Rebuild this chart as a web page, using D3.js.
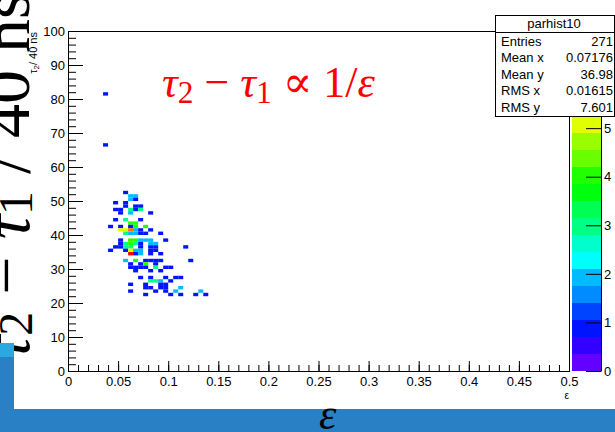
<!DOCTYPE html>
<html><head><meta charset="utf-8">
<script src="https://cdn.jsdelivr.net/npm/d3@7"></script>
<style>body{margin:0;background:#fff;} svg{display:block;}</style>
</head><body>
<svg id="c" width="615" height="432"></svg>
<script>
// ---------------- data ----------------
const rowTau = [81,66,52,51,50,49,48,47,46,44,43,42,41,40,38,37,36,35,34,32,31,30,29,27,26,25,24,23,22];
const rowEps = [
 [0.035],[0.035],
 [0.055],
 [0.06,0.065],
 [0.06,0.065],
 [0.045,0.055],
 [0.055,0.065,0.07],
 [0.045,0.05,0.06,0.065,0.07],
 [0.05,0.06,0.08],
 [0.045,0.055,0.07],
 [0.06,0.065],
 [0.04,0.05,0.06,0.065,0.075],
 [0.05,0.055,0.06,0.065,0.07,0.08],
 [0.055,0.06,0.065,0.07,0.075,0.09],
 [0.05,0.06,0.065,0.07,0.075,0.08,0.095],
 [0.05,0.055,0.06,0.065,0.07,0.08,0.085],
 [0.045,0.05,0.055,0.06,0.07,0.08,0.085,0.115],
 [0.04,0.055,0.06,0.065,0.07,0.08,0.085],
 [0.06,0.065,0.07,0.08,0.09],
 [0.055,0.065,0.075,0.08,0.085,0.09,0.12],
 [0.06,0.07,0.075,0.085],
 [0.06,0.065,0.07,0.075,0.085,0.095,0.1],
 [0.065,0.08,0.09],
 [0.07,0.08,0.095,0.105,0.11],
 [0.08,0.085,0.09,0.1],
 [0.06,0.075,0.09,0.095],
 [0.075,0.08,0.09,0.095,0.11],
 [0.06,0.085,0.095,0.105,0.13],
 [0.075,0.1,0.11,0.125,0.135]
];
const rowCount = [
 [1],[1],
 [1],
 [2,2],
 [2,1],
 [1,1],
 [1,1,1],
 [1,1,3,1,3],
 [1,2,1],
 [1,3,1],
 [4,4],
 [1,1,1,4,4],
 [5,5,6,2,1,1],
 [3,2,2,1,1,1],
 [1,4,4,2,2,2,1],
 [1,3,4,3,1,2,2],
 [1,1,3,3,1,1,1,1],
 [1,1,5,2,2,1,1],
 [7,1,2,1,1],
 [2,4,1,1,1,1,1],
 [1,1,4,1],
 [1,1,1,1,3,1,1],
 [1,1,1],
 [1,1,1,1,1],
 [3,3,2,1],
 [1,1,1,1],
 [1,1,1,1,2],
 [1,1,1,2,2],
 [1,1,1,1,1]
];
const binWidthEps = 0.005;
const binHeightTau = 1;
const xTicks = [0,0.05,0.1,0.15,0.2,0.25,0.3,0.35,0.4,0.45,0.5];
const yTicks = [0,10,20,30,40,50,60,70,80,90,100];
const zTicks = [0,1,2,3,4,5];
const zMax = 7;
const nContours = 20;
const histName = "parhist10";
const statLabels = ["Entries","Mean x","Mean y","RMS x","RMS y"];
const statValues = ["271","0.07176","36.98","0.01615","7.601"];

// ---------------- layout ----------------
const svg = d3.select("#c");
const SANS = "'Liberation Sans', Arial, Helvetica, sans-serif";
const SERIF = "'Liberation Serif', 'DejaVu Serif', serif";
const L = 68, R = 569, T = 31, B = 371;
const x = d3.scaleLinear().domain([0,0.5]).range([L,R]);
const y = d3.scaleLinear().domain([0,100]).range([B,T]);

// ROOT "pretty" palette (50 colours, hue 280 -> 0)
function paletteColor(k){
  const idx = Math.floor(0.01 + (k+0.99)*50/nContours);
  const hue = 280 - (idx+1)*(280/50);
  return d3.hsl(hue,1,0.5).formatHex();
}
function countColor(c){
  let k = Math.floor(c/(zMax/nContours) + 1e-9);
  if (k > nContours-1) k = nContours-1;
  return paletteColor(k);
}

// big rotated slide label (cut off at the left)
const big = svg.append("text")
  .attr("transform","translate(29,360) rotate(-90)")
  .attr("font-family", SERIF).attr("font-size", 68).attr("fill","#000");
big.append("tspan").attr("font-style","italic").text("τ");
big.append("tspan").attr("font-size",48).attr("dy",3).text("2");
big.append("tspan").attr("dy",-3).text(" − ");
big.append("tspan").attr("font-style","italic").text("τ");
big.append("tspan").attr("font-size",48).attr("dy",3).text("1");
big.append("tspan").attr("dy",-3).text(" / 40 ns");

// slide background strips
svg.append("rect").attr("x",0).attr("y",343).attr("width",14).attr("height",14).attr("fill","#29a9e1");
svg.append("rect").attr("x",0).attr("y",357).attr("width",14).attr("height",75).attr("fill","#2a80c4");
svg.append("rect").attr("x",0).attr("y",409).attr("width",615).attr("height",23).attr("fill","#2a80c4");

// cells
const cells = [];
rowTau.forEach((t,i)=>rowEps[i].forEach((e,j)=>cells.push({e, t, c: rowCount[i][j]})));
svg.append("g").selectAll("rect").data(cells).join("rect")
  .attr("x", d=>x(d.e)).attr("y", d=>y(d.t+binHeightTau))
  .attr("width", d=>x(d.e+binWidthEps)-x(d.e))
  .attr("height", d=>y(d.t)-y(d.t+binHeightTau))
  .attr("fill", d=>countColor(d.c));

// axes
function styleAxis(g){
  g.select(".domain").remove();
  g.selectAll("line").attr("stroke","#000");
  g.selectAll("text").attr("font-family",SANS).attr("font-size",13).attr("fill","#000");
}
const xMinorVals = d3.range(0,51).map(k=>k/100);
svg.append("g").attr("transform",`translate(0,${B})`)
  .call(d3.axisBottom(x).tickValues(xMinorVals).tickSize(-6).tickFormat(""))
  .call(styleAxis);
svg.append("g").attr("transform",`translate(0,${B})`)
  .call(d3.axisBottom(x).tickValues(xTicks).tickSize(-10).tickPadding(6).tickFormat(d=>String(+d.toFixed(3))))
  .call(styleAxis);
const yMinorVals = d3.range(0,101,2);
svg.append("g").attr("transform",`translate(${L},0)`)
  .call(d3.axisLeft(y).tickValues(yMinorVals).tickSize(-8).tickFormat(""))
  .call(styleAxis);
svg.append("g").attr("transform",`translate(${L},0)`)
  .call(d3.axisLeft(y).tickValues(yTicks).tickSize(-15).tickPadding(3).tickFormat(d3.format("d")))
  .call(styleAxis);

// frame
svg.append("rect").attr("x",L+0.5).attr("y",T+0.5).attr("width",R-L).attr("height",B-T)
  .attr("fill","none").attr("stroke","#000");

// axis titles
const yt = svg.append("text").attr("transform",`translate(37,${T+1}) rotate(-90)`)
  .attr("text-anchor","end").attr("font-family",SANS).attr("font-size",11).attr("fill","#000");
yt.append("tspan").text("τ");
yt.append("tspan").attr("font-size",8).attr("dy",2).text("2");
yt.append("tspan").attr("dy",-2).text("/ 40 ns");
svg.append("text").attr("x",R).attr("y",399).attr("text-anchor","end")
  .attr("font-family",SANS).attr("font-size",10).text("ε");

// palette
const PX0 = 572, PX1 = 601;
const z = d3.scaleLinear().domain([0,zMax]).range([B,T]);
svg.append("g").selectAll("rect").data(d3.range(nContours)).join("rect")
  .attr("x",PX0).attr("width",PX1-PX0)
  .attr("y", k=>z((k+1)*zMax/nContours)).attr("height", k=>z(k*zMax/nContours)-z((k+1)*zMax/nContours))
  .attr("fill", k=>paletteColor(k));
svg.append("g").attr("transform",`translate(${PX1},0)`)
  .call(d3.axisRight(z).tickValues(zTicks).tickSize(-15).tickPadding(3).tickSizeOuter(0).tickFormat(d3.format("d")))
  .call(g=>{ g.select(".domain").attr("stroke","#000"); g.selectAll("line").attr("stroke","#000");
    g.selectAll("text").attr("font-family",SANS).attr("font-size",13).attr("fill","#000"); });

// stats box
const sb = svg.append("g");
sb.append("rect").attr("x",495.5).attr("y",15.5).attr("width",119).attr("height",101)
  .attr("fill","#fff").attr("stroke","#000");
sb.append("line").attr("x1",495).attr("x2",615).attr("y1",32.5).attr("y2",32.5).attr("stroke","#000");
sb.append("text").attr("x",554).attr("y",28).attr("text-anchor","middle")
  .attr("font-family",SANS).attr("font-size",13).text(histName);
statLabels.forEach((lab,i)=>{
  const by = 46 + i*16.4;
  sb.append("text").attr("x",501).attr("y",by).attr("font-family",SANS).attr("font-size",13).text(lab);
  sb.append("text").attr("x",613).attr("y",by).attr("text-anchor","end").attr("font-family",SANS).attr("font-size",13).text(statValues[i]);
});

// red annotation
const red = svg.append("text").attr("x",162).attr("y",97)
  .attr("font-family",SERIF).attr("font-size",28).attr("fill","#ff0000");
red.append("tspan").attr("font-style","italic").text("τ");
red.append("tspan").attr("font-size",20).attr("dy",6).text("2");
red.append("tspan").attr("dy",-6).text(" − ");
red.append("tspan").attr("font-style","italic").text("τ");
red.append("tspan").attr("font-size",20).attr("dy",6).text("1");
red.append("tspan").attr("dy",-6).text(" ∝ 1/");
red.append("tspan").attr("font-style","italic").text("ε");
const rw = red.node().getBBox().width;
red.attr("font-size", 28*213/rw);
red.selectAll("tspan").each(function(){ const fs=d3.select(this).attr("font-size"); if(fs) d3.select(this).attr("font-size", fs*213/rw); });

// bottom epsilon
svg.append("text").attr("x",319).attr("y",429).attr("font-family",SERIF)
  .attr("font-style","italic").attr("font-size",44).attr("fill","#000").text("ε");
</script>
</body></html>
